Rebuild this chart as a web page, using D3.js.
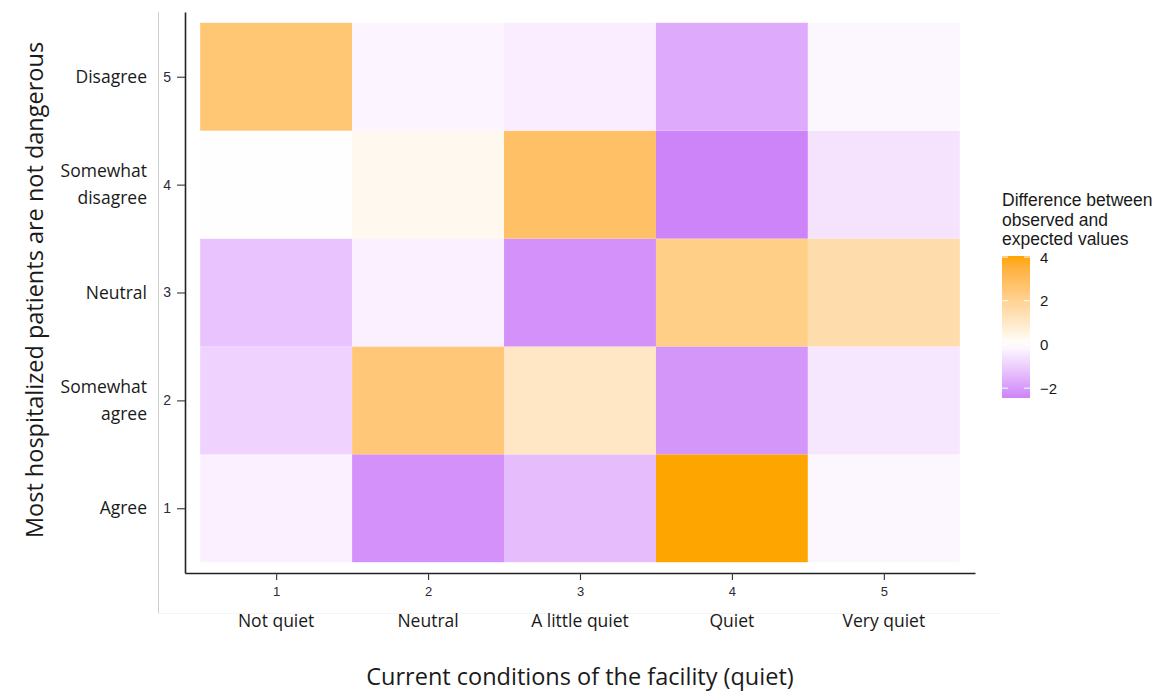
<!DOCTYPE html>
<html>
<head>
<meta charset="utf-8">
<script src="https://cdn.jsdelivr.net/npm/d3@7"></script>
<style>
  body { margin: 0; background: #fff; }
  svg { display: block; }
</style>
</head>
<body>
<svg id="chart" width="1171" height="691"></svg>
<script>
// Quietness of the facility (columns) and agreement level (rows)
const xCodes = [1, 2, 3, 4, 5];
const yCodes = [1, 2, 3, 4, 5];
const xNames = ["Not quiet", "Neutral", "A little quiet", "Quiet", "Very quiet"];
const yNames = [["Agree"], ["Somewhat", "agree"], ["Neutral"], ["Somewhat", "disagree"], ["Disagree"]];
const legendTicks = [-2, 0, 2, 4];

// Observed minus expected counts, one row per agreement level (1 = Agree ... 5 = Disagree),
// columns ordered by quietness 1..5
const diffAgree            = [-0.30, -2.20, -1.35,  4.05, -0.15];
const diffSomewhatAgree    = [-0.90,  2.50,  1.05, -2.10, -0.50];
const diffNeutral          = [-1.20, -0.30, -2.20,  2.20,  1.55];
const diffSomewhatDisagree = [-0.02,  0.30,  2.80, -2.45, -0.55];
const diffDisagree         = [ 2.55, -0.20, -0.35, -1.70, -0.15];
const diffRows = [diffAgree, diffSomewhatAgree, diffNeutral, diffSomewhatDisagree, diffDisagree];

const cells = [];
diffRows.forEach((row, i) => row.forEach((v, j) => cells.push({ x: xCodes[j], y: yCodes[i], value: v })));

const svg = d3.select("#chart");
const sansUI = "'Open Sans', 'Noto Sans', sans-serif";
const sansR = "'Liberation Sans', Arial, sans-serif";

const panel = { left: 185, right: 975, top: 12, bottom: 573 };
const x = d3.scaleLinear().domain([0.4, 5.6]).range([panel.left, panel.right]);
const y = d3.scaleLinear().domain([0.4, 5.6]).range([panel.bottom, panel.top]);

const vals = cells.map(d => d.value);
const vMin = d3.min(vals), vMax = d3.max(vals);
const lim = Math.max(Math.abs(vMin), Math.abs(vMax));
const color = d3.scaleLinear()
  .domain([-lim, 0, lim])
  .range(["#A020F0", "#FFFFFF", "#FFA500"])
  .interpolate(d3.interpolateLab);

// faint frame lines around the plot area
svg.append("line").attr("x1", 158.5).attr("x2", 158.5).attr("y1", 12).attr("y2", 613)
  .attr("stroke", "#cfcfcf").attr("stroke-width", 1);
svg.append("line").attr("x1", 158).attr("x2", 1000).attr("y1", 613.5).attr("y2", 613.5)
  .attr("stroke", "#f4f4f4").attr("stroke-width", 1);

// tiles
svg.append("g").selectAll("rect").data(cells).join("rect")
  .attr("x", d => x(d.x - 0.5))
  .attr("y", d => y(d.y + 0.5))
  .attr("width", d => x(d.x + 0.5) - x(d.x - 0.5))
  .attr("height", d => y(d.y - 0.5) - y(d.y + 0.5))
  .attr("fill", d => color(d.value));

// axes
const xAxis = svg.append("g").attr("transform", `translate(0,${panel.bottom})`)
  .call(d3.axisBottom(x).tickValues(xCodes).tickFormat(d3.format("d")).tickSize(7).tickPadding(7).tickSizeOuter(0));
const yAxis = svg.append("g").attr("transform", `translate(${panel.left},0)`)
  .call(d3.axisLeft(y).tickValues(yCodes).tickFormat(d3.format("d")).tickSize(8).tickPadding(6).tickSizeOuter(0));
[xAxis, yAxis].forEach(g => {
  g.select(".domain").attr("stroke", "#222").attr("stroke-width", 1.6);
  g.selectAll(".tick line").attr("stroke", "#333").attr("stroke-width", 1.1);
  g.selectAll(".tick text").attr("fill", "#2a2a3a").style("font-family", sansR);
});
xAxis.selectAll(".tick text").style("font-size", "13px");
yAxis.selectAll(".tick text").style("font-size", "14px");

// category names under the x ticks
svg.append("g").selectAll("text").data(xNames).join("text")
  .attr("x", (d, i) => x(xCodes[i]))
  .attr("y", 627)
  .attr("text-anchor", "middle")
  .style("font-family", sansUI)
  .style("font-size", "17.5px")
  .attr("fill", "#1a1a1a")
  .text(d => d);

// category names beside the y ticks
const yl = svg.append("g").selectAll("text").data(yNames).join("text")
  .attr("text-anchor", "end")
  .style("font-family", sansUI)
  .style("font-size", "17.5px")
  .attr("fill", "#1a1a1a")
  .attr("transform", (d, i) => `translate(147,${y(yCodes[i]) + 6 - (d.length - 1) * 13.5})`);
yl.selectAll("tspan").data(d => d).join("tspan")
  .attr("x", 0).attr("dy", (d, i) => i === 0 ? 0 : 27).text(d => d);

// axis titles
svg.append("text")
  .attr("x", 580).attr("y", 685)
  .attr("text-anchor", "middle")
  .style("font-family", sansUI)
  .style("font-size", "23.5px")
  .attr("fill", "#1a1a1a")
  .text("Current conditions of the facility (quiet)");
svg.append("text")
  .attr("transform", "translate(43,290) rotate(-90)")
  .attr("text-anchor", "middle")
  .style("font-family", sansUI)
  .style("font-size", "23.5px")
  .attr("fill", "#1a1a1a")
  .text("Most hospitalized patients are not dangerous");

// legend
const lg = svg.append("g");
const titleLines = ["Difference between", "observed and", "expected values"];
lg.append("text")
  .style("font-family", sansR)
  .style("font-size", "17.5px")
  .attr("fill", "#1a1a1a")
  .selectAll("tspan").data(titleLines).join("tspan")
  .attr("x", 1002).attr("y", (d, i) => 206 + i * 19.5).text(d => d);

const barX = 1002, barW = 28;
const ly = d3.scaleLinear().domain([vMin, vMax]).range([398, 256]);
const grad = svg.append("defs").append("linearGradient").attr("id", "legend-grad")
  .attr("x1", 0).attr("x2", 0).attr("y1", 1).attr("y2", 0);
d3.range(0, 1.0001, 0.05).forEach(t => {
  grad.append("stop").attr("offset", t).attr("stop-color", color(vMin + t * (vMax - vMin)));
});
lg.append("rect").attr("x", barX).attr("y", ly(vMax)).attr("width", barW)
  .attr("height", ly(vMin) - ly(vMax)).attr("fill", "url(#legend-grad)");
lg.selectAll(".lt").data(legendTicks).join("g").each(function(v) {
  const g = d3.select(this), yy = ly(v);
  g.append("line").attr("x1", barX).attr("x2", barX + 6).attr("y1", yy).attr("y2", yy).attr("stroke", "#fff");
  g.append("line").attr("x1", barX + barW - 6).attr("x2", barX + barW).attr("y1", yy).attr("y2", yy).attr("stroke", "#fff");
  g.append("text").attr("x", barX + barW + 10).attr("y", yy + 5.5)
    .style("font-family", sansR).style("font-size", "15px")
    .attr("fill", "#1a1a1a").text(d3.format("d")(v));
});
</script>
</body>
</html>
